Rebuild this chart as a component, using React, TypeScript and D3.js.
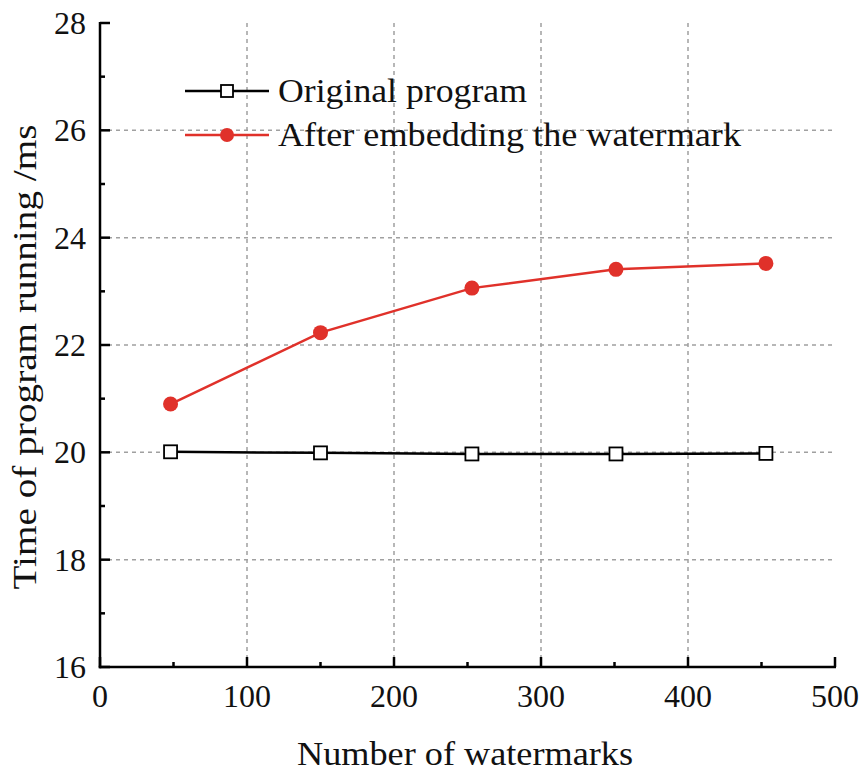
import React from "react";
import * as d3 from "d3";

const xValues = [48, 150, 253, 351, 453];
const originalValues = [20.01, 19.99, 19.97, 19.97, 19.98];
const embeddedValues = [20.9, 22.23, 23.06, 23.41, 23.52];
const xTicks = [0, 100, 200, 300, 400, 500];
const yTicks = [16, 18, 20, 22, 24, 26, 28];
const seriesNames = ["Original program", "After embedding the watermark"];
const xTitle = "Number of watermarks";
const yTitle = "Time of program running /ms";

const W = 864;
const H = 772;
const FONT = "'Liberation Serif', 'Times New Roman', serif";
const RED = "#e0312a";

export default function App() {
  const x = d3.scaleLinear().domain([0, 500]).range([100, 835]);
  const y = d3.scaleLinear().domain([16, 28]).range([667, 23]);
  const minorX = d3.range(50, 500, 100);
  const minorY = d3.range(17, 28, 2);
  const line = d3
    .line<number>()
    .x((_, i) => x(xValues[i]))
    .y((d) => y(d));

  return (
    <svg
      width={W}
      height={H}
      style={{ position: "absolute", left: 0, top: 0, background: "#fff" }}
    >
      <rect width={W} height={H} fill="#fff" />
      {/* grid */}
      {xTicks
        .filter((t) => t > 0 && t < 500)
        .map((t) => (
          <line
            key={"gx" + t}
            x1={x(t)}
            x2={x(t)}
            y1={y(28)}
            y2={y(16)}
            stroke="#a0a0a0"
            strokeWidth={1.5}
            strokeDasharray="4 4"
          />
        ))}
      {yTicks
        .filter((t) => t > 16 && t < 28)
        .map((t) => (
          <line
            key={"gy" + t}
            x1={x(0)}
            x2={x(500)}
            y1={y(t)}
            y2={y(t)}
            stroke="#a0a0a0"
            strokeWidth={1.5}
            strokeDasharray="4 4"
          />
        ))}
      {/* axes */}
      <line x1={x(0)} x2={x(0)} y1={y(28) - 1} y2={y(16) + 1.25} stroke="#000" strokeWidth={2.5} />
      <line x1={x(0) - 1.25} x2={x(500) + 1} y1={y(16)} y2={y(16)} stroke="#000" strokeWidth={2.5} />
      {xTicks.map((t) => (
        <line key={"tx" + t} x1={x(t)} x2={x(t)} y1={y(16)} y2={y(16) - 10} stroke="#000" strokeWidth={2.5} />
      ))}
      {minorX.map((t) => (
        <line key={"mx" + t} x1={x(t)} x2={x(t)} y1={y(16)} y2={y(16) - 5} stroke="#000" strokeWidth={2.5} />
      ))}
      {yTicks.map((t) => (
        <line key={"ty" + t} x1={x(0)} x2={x(0) + 10} y1={y(t)} y2={y(t)} stroke="#000" strokeWidth={2.5} />
      ))}
      {minorY.map((t) => (
        <line key={"my" + t} x1={x(0)} x2={x(0) + 5} y1={y(t)} y2={y(t)} stroke="#000" strokeWidth={2.5} />
      ))}
      {xTicks.map((t) => (
        <text key={"lx" + t} x={x(t)} y={707} textAnchor="middle" fontFamily={FONT} fontSize={32} fill="#111">
          {t}
        </text>
      ))}
      {yTicks.map((t) => (
        <text key={"ly" + t} x={86} y={y(t) + 11} textAnchor="end" fontFamily={FONT} fontSize={32} fill="#111">
          {t}
        </text>
      ))}
      {/* titles */}
      <text
        x={465}
        y={765}
        textAnchor="middle"
        fontFamily={FONT}
        fontSize={33}
        fill="#111"
        textLength={336}
        lengthAdjust="spacingAndGlyphs"
      >
        {xTitle}
      </text>
      <text
        transform={`translate(36,357) rotate(-90)`}
        textAnchor="middle"
        fontFamily={FONT}
        fontSize={33}
        fill="#111"
        textLength={465}
        lengthAdjust="spacingAndGlyphs"
      >
        {yTitle}
      </text>
      {/* series */}
      <path d={line(originalValues) || ""} fill="none" stroke="#000" strokeWidth={2.5} />
      <path d={line(embeddedValues) || ""} fill="none" stroke={RED} strokeWidth={2.5} />
      {originalValues.map((v, i) => (
        <rect
          key={"o" + i}
          x={x(xValues[i]) - 6.5}
          y={y(v) - 6.5}
          width={13}
          height={13}
          fill="#fff"
          stroke="#000"
          strokeWidth={1.8}
        />
      ))}
      {embeddedValues.map((v, i) => (
        <circle key={"e" + i} cx={x(xValues[i])} cy={y(v)} r={7.5} fill={RED} />
      ))}
      {/* legend */}
      <line x1={185} x2={269} y1={91} y2={91} stroke="#000" strokeWidth={2.5} />
      <rect x={227 - 6} y={91 - 6} width={12} height={12} fill="#fff" stroke="#000" strokeWidth={1.8} />
      <text x={278} y={102} fontFamily={FONT} fontSize={33} fill="#111" textLength={249} lengthAdjust="spacingAndGlyphs">
        {seriesNames[0]}
      </text>
      <line x1={185} x2={269} y1={135} y2={135} stroke={RED} strokeWidth={2.5} />
      <circle cx={227} cy={135} r={7} fill={RED} />
      <text x={278} y={146} fontFamily={FONT} fontSize={33} fill="#111" textLength={463} lengthAdjust="spacingAndGlyphs">
        {seriesNames[1]}
      </text>
    </svg>
  );
}
